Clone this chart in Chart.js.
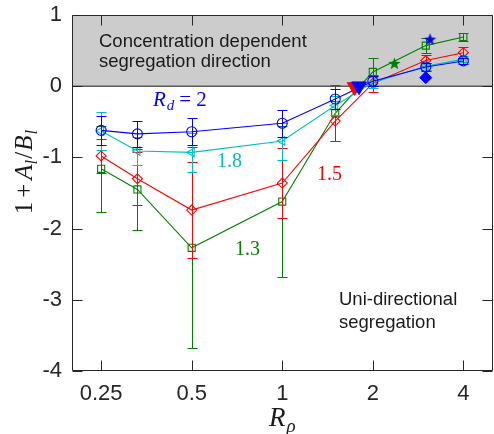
<!DOCTYPE html>
<html><head><meta charset="utf-8">
<script src="https://cdn.jsdelivr.net/npm/chart.js@4"></script>
<style>
html,body{margin:0;padding:0;overflow:hidden;background:#fff;width:494px;height:434px}
#wrap{width:502px;height:434px;position:relative}
</style>
</head><body><div id="wrap"><canvas id="c" width="502" height="434"></canvas></div>
<script>
// ---------- data ----------
const rhoRatio = [0.25, 0.33, 0.5, 1, 1.5, 2, 3, 4];
const rd20 = [-0.62, -0.67, -0.64, -0.52, -0.18, 0.07, 0.27, 0.355];
const rd20Err = [0.2, 0.18, 0.19, 0.19, 0.14, 0.07, 0.05, 0.04];
const rd18 = [-0.63, -0.91, -0.93, -0.77, -0.27, 0.05, 0.28, 0.38];
const rd18Err = [0.27, 0.2, 0.27, 0.26, 0.13, 0.08, 0.05, 0.04];
const rd15 = [-0.98, -1.30, -1.74, -1.36, -0.49, 0.04, 0.36, 0.47];
const rd15Err = [0.24, 0.37, 0.67, 0.49, 0.28, 0.12, 0.08, 0.08];
const rd13 = [-1.16, -1.45, -2.27, -1.62, -0.38, 0.2, 0.57, 0.69];
const rd13Err = [0.6, 0.57, 1.41, 1.06, 0.39, 0.2, 0.1, 0.06];
const seriesNames = ['2', '1.8', '1.5', '1.3'];
// single special markers
const triRedX = [1.74], triRedY = [-0.01];
const triBlueX = [1.8], triBlueY = [0.0];
const starGreenX = [2.36], starGreenY = [0.32];
const starBlueX = [3.1], starBlueY = [0.66];
const diaBlueX = [3.0], diaBlueY = [0.12];
const xTicks = [0.25, 0.5, 1, 2, 4];
const yTicks = [1, 0, -1, -2, -3, -4];
const bandRange = [0, 1];

// ---------- helpers ----------
const pts = (xs, ys) => xs.map((x, i) => ({x: x, y: ys[i]}));
function starCanvas(color, r) {
  const s = Math.ceil(r * 2 + 2);
  const c = document.createElement('canvas'); c.width = s; c.height = s;
  const g = c.getContext('2d'); g.fillStyle = color; g.beginPath();
  for (let i = 0; i < 10; i++) {
    const a = -Math.PI / 2 + i * Math.PI / 5, rr = i % 2 ? r * 0.42 : r;
    g.lineTo(s / 2 + rr * Math.cos(a), s / 2 + 0.5 + rr * Math.sin(a));
  }
  g.closePath(); g.fill(); return c;
}
const BLUE = '#0000ff', CYAN = '#00bfbf', RED = '#ff0000', GREEN = '#008000', AX = '#262626';
const SANS = '"Liberation Sans", Arial, Helvetica, sans-serif';
const SERIF = '"Liberation Serif", "Times New Roman", serif';

function lineDs(label, ys, err, color, style, radius, rot) {
  return {
    label: label, data: pts(rhoRatio, ys), errors: err,
    borderColor: color, backgroundColor: color, borderWidth: 1.1,
    pointStyle: style, pointRadius: radius, pointRotation: rot || 0,
    pointBorderColor: color, pointBackgroundColor: 'rgba(0,0,0,0)', pointBorderWidth: 1.1,
    showLine: true, fill: false, tension: 0
  };
}
function markDs(xs, ys, color, style, radius, rot) {
  return {
    data: pts(xs, ys), showLine: false, pointStyle: style, pointRadius: radius,
    pointRotation: rot || 0, pointBorderColor: color, pointBackgroundColor: color,
    borderColor: color, backgroundColor: color, pointBorderWidth: 1
  };
}

const datasets = [
  markDs(starBlueX, starBlueY, BLUE, starCanvas(BLUE, 6.5), 6),
  markDs(starGreenX, starGreenY, GREEN, starCanvas(GREEN, 6.5), 6),
  markDs(diaBlueX, diaBlueY, BLUE, 'rectRot', 6),
  markDs(triBlueX, triBlueY, BLUE, 'triangle', 8.5, 180),
  markDs(triRedX, triRedY, RED, 'triangle', 8.5, 180),
  lineDs(seriesNames[0], rd20, rd20Err, BLUE, 'circle', 5),
  lineDs(seriesNames[1], rd18, rd18Err, CYAN, 'triangle', 5, -90),
  lineDs(seriesNames[2], rd15, rd15Err, RED, 'rectRot', 5),
  lineDs(seriesNames[3], rd13, rd13Err, GREEN, 'rect', 5)
];

// ---------- plugins ----------
const errPlugin = {
  id: 'errbars',
  beforeDatasetDraw(chart, args) {
    const ds = chart.data.datasets[args.index];
    if (!ds.errors) return;
    const ctx = chart.ctx, xs = chart.scales.x, ys = chart.scales.y;
    ctx.save(); ctx.strokeStyle = ds.borderColor; ctx.lineWidth = 1;
    ds.data.forEach((p, i) => {
      const e = ds.errors[i];
      const px = Math.round(xs.getPixelForValue(p.x)) + 0.5;
      const y1 = Math.round(ys.getPixelForValue(p.y + e)) + 0.5;
      const y2 = Math.round(ys.getPixelForValue(p.y - e)) + 0.5;
      ctx.beginPath();
      ctx.moveTo(px, y1); ctx.lineTo(px, y2);
      ctx.moveTo(px - 5, y1); ctx.lineTo(px + 5, y1);
      ctx.moveTo(px - 5, y2); ctx.lineTo(px + 5, y2);
      ctx.stroke();
    });
    ctx.restore();
  }
};

const bandPlugin = {
  id: 'band',
  beforeDatasetsDraw(chart) {
    const ctx = chart.ctx, a = chart.chartArea, ys = chart.scales.y;
    const yTop = ys.getPixelForValue(bandRange[1]), yBot = ys.getPixelForValue(bandRange[0]);
    ctx.save();
    ctx.fillStyle = '#cccccc';
    ctx.fillRect(a.left, yTop, a.right - a.left, yBot - yTop);
    ctx.strokeStyle = '#5a5a5a'; ctx.lineWidth = 1.5;
    ctx.beginPath(); ctx.moveTo(a.left, yBot); ctx.lineTo(a.right, yBot); ctx.stroke();
    // band texts
    ctx.fillStyle = '#1a1a1a'; ctx.font = '18.5px ' + SANS; ctx.textAlign = 'left'; ctx.textBaseline = 'alphabetic';
    ctx.fillText('Concentration dependent', 99, 46.5);
    ctx.fillText('segregation direction', 99, 67);
    ctx.restore();
  }
};

function drawMath(ctx, parts, x, y) {
  let cx = x;
  parts.forEach(p => { ctx.font = p[1]; ctx.fillText(p[0], cx, y + (p[2] || 0)); cx += ctx.measureText(p[0]).width + (p[3] || 0); });
  return cx - x;
}
function mathWidth(ctx, parts) {
  let w = 0; parts.forEach(p => { ctx.font = p[1]; w += ctx.measureText(p[0]).width + (p[3] || 0); }); return w;
}

const framePlugin = {
  id: 'frame',
  afterDatasetsDraw(chart) {
    const ctx = chart.ctx, a = chart.chartArea, xs = chart.scales.x, ys = chart.scales.y;
    ctx.save();
    ctx.strokeStyle = AX; ctx.lineWidth = 1;
    const L = Math.round(a.left) + 0.5, R = Math.round(a.right) - 0.5, T = Math.round(a.top) + 0.5, B = Math.round(a.bottom) - 0.5;
    ctx.beginPath();
    ctx.rect(L, T, R - L, B - T);
    xTicks.forEach(v => {
      const px = Math.round(xs.getPixelForValue(v)) + 0.5;
      ctx.moveTo(px, B); ctx.lineTo(px, B - 10);
      ctx.moveTo(px, T); ctx.lineTo(px, T + 10);
    });
    yTicks.forEach(v => {
      const py = Math.round(ys.getPixelForValue(v)) + 0.5;
      ctx.moveTo(L, py); ctx.lineTo(L + 10, py);
      ctx.moveTo(R, py); ctx.lineTo(R - 10, py);
    });
    ctx.stroke();

    // lower-right annotation
    ctx.fillStyle = '#1a1a1a'; ctx.font = '18.5px ' + SANS; ctx.textAlign = 'left'; ctx.textBaseline = 'alphabetic';
    ctx.fillText('Uni-directional', 339, 305);
    ctx.fillText('segregation', 339, 328);

    // series labels
    const it = 'italic 21px ' + SERIF, up = '21px ' + SERIF, sub = 'italic 15px ' + SERIF;
    ctx.fillStyle = BLUE;
    drawMath(ctx, [['R', it, 0, 1], ['d', sub, 4, 5], ['=', up, 0, 5], ['2', up, 0]], 153, 106);
    ctx.font = '20px ' + SERIF;
    ctx.fillStyle = CYAN; ctx.fillText('1.8', 217, 167);
    ctx.fillStyle = RED; ctx.fillText('1.5', 317, 180);
    ctx.fillStyle = GREEN; ctx.fillText('1.3', 235, 255);

    // axis titles
    ctx.fillStyle = '#1a1a1a';
    const xt = [['R', 'italic 27px ' + SERIF, 0, 1], ['\u03c1', 'italic 19px ' + SERIF, 6]];
    const xw = mathWidth(ctx, xt);
    drawMath(ctx, xt, (a.left + a.right) / 2 - xw / 2, 426);
    const yt = [['1', '25px ' + SERIF, 0, 4], ['+', '25px ' + SERIF, 0, 4], ['A', 'italic 25px ' + SERIF, 0, 0],
      ['l', 'italic 17px ' + SERIF, 5, 1], ['/', '25px ' + SERIF, 0, 1], ['B', 'italic 25px ' + SERIF, 0, 1], ['l', 'italic 17px ' + SERIF, 5]];
    const yw = mathWidth(ctx, yt);
    ctx.translate(32, 172); ctx.rotate(-Math.PI / 2);
    drawMath(ctx, yt, -yw / 2, 0);
    ctx.restore();
  }
};

new Chart(document.getElementById('c'), {
  type: 'line',
  data: {datasets: datasets},
  options: {
    responsive: false, animation: false, devicePixelRatio: 1,
    layout: {padding: {top: 15, left: 0, right: 1, bottom: 0}},
    plugins: {legend: {display: false}, tooltip: {enabled: false}},
    scales: {
      x: {
        type: 'logarithmic', min: 0.2, max: 5,
        afterBuildTicks: s => { s.ticks = xTicks.map(v => ({value: v})); },
        afterFit: s => { s.height = 63; },
        grid: {display: false, drawTicks: true, tickLength: 10}, border: {display: false},
        ticks: {color: AX, font: {family: SANS, size: 22}, padding: 0, maxRotation: 0, autoSkip: false,
          callback: v => String(v)}
      },
      y: {
        type: 'linear', min: -4, max: 1,
        afterBuildTicks: s => { s.ticks = yTicks.map(v => ({value: v})); },
        afterFit: s => { s.width = 72; },
        grid: {display: false, drawTicks: true, tickLength: 10}, border: {display: false},
        ticks: {color: AX, font: {family: SANS, size: 22}, padding: 0, callback: v => String(v)}
      }
    }
  },
  plugins: [bandPlugin, errPlugin, framePlugin]
});
</script>
</body></html>
